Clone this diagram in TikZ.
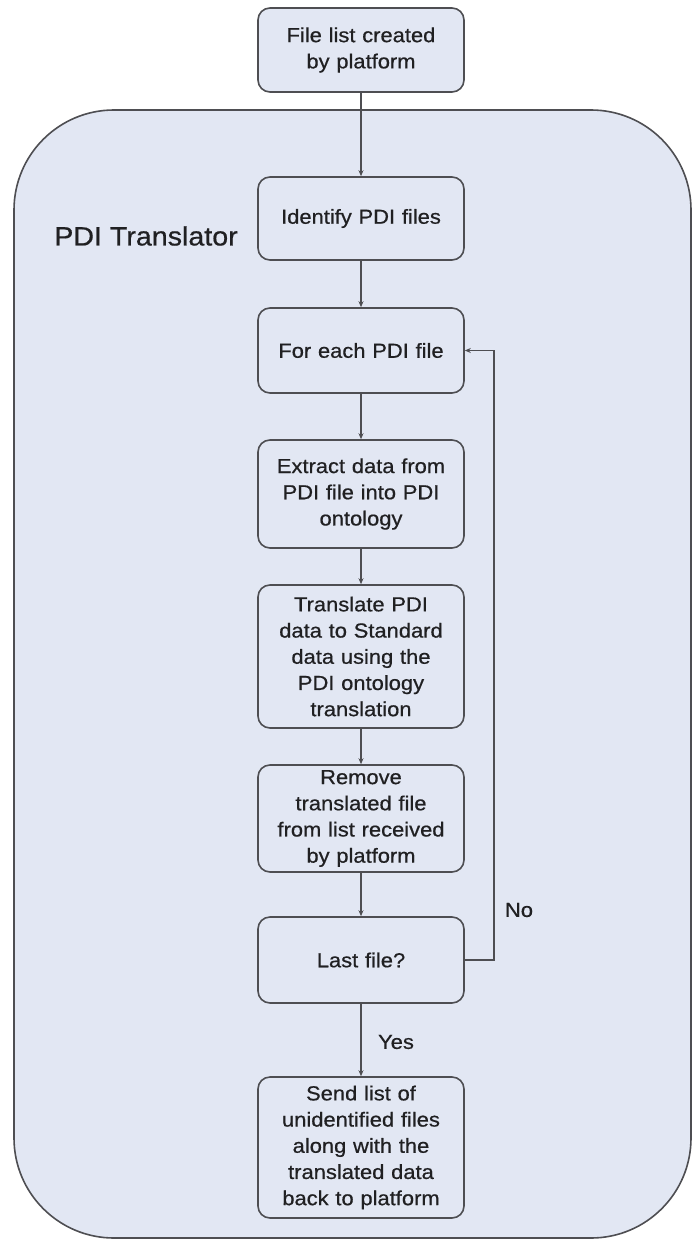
\documentclass[tikz,border=0pt]{standalone}
\usepackage{fontspec}
\setmainfont{Liberation Sans}[FakeStretch=1.08, FakeBold=0.6]
\usetikzlibrary{arrows.meta}
\definecolor{panelfill}{RGB}{226,231,243}
\definecolor{edgegrey}{RGB}{78,78,82}
\definecolor{inkgrey}{RGB}{32,32,34}
\begin{document}
\begin{tikzpicture}[x=1pt,y=-1pt,
  stepbox/.style={draw=edgegrey, line width=1.6pt, fill=panelfill,
    rounded corners=12pt, minimum width=206pt, text width=198pt,
    align=center, inner sep=0pt, text=inkgrey,
    font=\fontsize{20.3}{26.2}\selectfont},
  flow/.style={draw=edgegrey, line width=1.4pt,
    -{Stealth[length=6pt,width=5pt]}},
  tag/.style={text=inkgrey, inner sep=0pt, font=\fontsize{20.3}{24}\selectfont}]
\useasboundingbox (0,0) rectangle (693,1241);
\fill[white] (0,0) rectangle (693,1241);

% translator panel
\draw[draw=edgegrey, line width=1.6pt, fill=panelfill, rounded corners=100pt]
  (14,110) rectangle (691,1238);
\node[tag, font=\fontsize{26.5}{30}\selectfont] (title) at (146,236) {PDI Translator};

% process steps
\node[stepbox, minimum height=84pt]  (start)     at (361,50)    {File list created\\by platform};
\node[stepbox, minimum height=83pt]  (identify)  at (361,218.5) {Identify PDI files};
\node[stepbox, minimum height=85pt]  (foreach)   at (361,350.5) {For each PDI file};
\node[stepbox, minimum height=108pt] (extract)   at (361,494)   {Extract data from\\PDI file into PDI\\ontology};
\node[stepbox, minimum height=143pt] (translate) at (361,656.5) {Translate PDI\\data to Standard\\data using the\\PDI ontology\\translation};
\node[stepbox, minimum height=107pt] (remove)    at (361,818.5) {Remove\\translated file\\from list received\\by platform};
\node[stepbox, minimum height=86pt]  (last)      at (361,960)   {Last file?};
\node[stepbox, minimum height=141pt] (send)      at (361,1147.5) {Send list of\\unidentified files\\along with the\\translated data\\back to platform};

% connectors
\draw[flow] (start) -- (identify);
\draw[flow] (identify) -- (foreach);
\draw[flow] (foreach) -- (extract);
\draw[flow] (extract) -- (translate);
\draw[flow] (translate) -- (remove);
\draw[flow] (remove) -- (last);
\draw[flow] (last) -- (send);
\coordinate (loopx) at (494,0);
\draw[flow] (last.east) -- (last.east -| loopx) |- (foreach.east);

% branch labels
\node[tag] (no)  at (519,910)  {No};
\node[tag] (yes) at (396,1042) {Yes};
\end{tikzpicture}
\end{document}
